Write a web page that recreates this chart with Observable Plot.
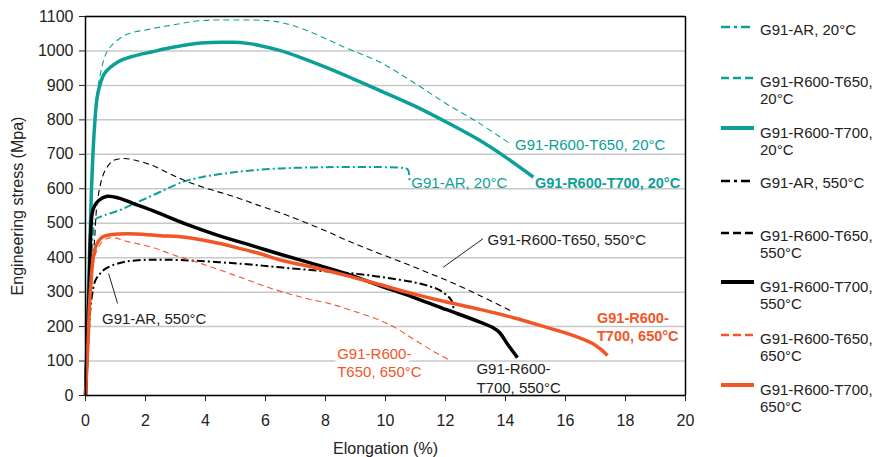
<!DOCTYPE html>
<html><head><meta charset="utf-8">
<script src="https://cdn.jsdelivr.net/npm/d3@7"></script>
<script src="https://cdn.jsdelivr.net/npm/@observablehq/plot@0.6"></script>
<style>
body{margin:0;background:#fff;font-family:"Liberation Sans",Arial,sans-serif;}
#wrap{position:relative;width:877px;height:457px;overflow:hidden;}
#chart{position:absolute;left:0;top:0;}
.lg-line{position:absolute;left:721px;}
.lg-text{position:absolute;left:760px;font-size:15px;line-height:17px;color:#222;white-space:nowrap;}
</style>
</head><body>
<div id="wrap"><div id="chart"></div><div id="legend"></div></div>
<script>
// Elongation (%), stress (MPa) pairs
const ar20 = [[0,0],[0.1,180],[0.2,400],[0.27,490],[0.33,511],[0.6,522],[1.11,537],[1.6,556],[2.22,580],[3.22,619],[3.83,633],[4.6,644],[5.5,653],[6.5,659],[7.6,662],[8.5,663],[9.8,663],[10.6,660],[10.75,655],[10.8,617]];
const t650_20 = [[0,0],[0.12,300],[0.25,700],[0.35,850],[0.52,943],[0.74,1001],[1.3,1045],[2.19,1064],[3,1077],[3.85,1088],[4.9,1090],[6.1,1088],[6.5,1083],[6.9,1074],[7.5,1055],[8.1,1032],[8.7,1008],[9.82,967],[10.93,909],[12.04,846],[13.15,789],[14.15,731]];
const t700_20 = [[0,0],[0.1,300],[0.2,600],[0.3,779],[0.41,876],[0.63,934],[1.08,968],[1.6,985],[2.19,997],[3,1012],[3.85,1023],[4.9,1025],[5.4,1022],[5.8,1016],[6.5,1001],[7.2,980],[8,953],[8.9,920],[9.82,885],[10.93,842],[12.04,793],[13.15,740],[14.0,692],[14.93,634]];
const ar550 = [[0,0],[0.1,170],[0.2,280],[0.33,334],[0.5,355],[0.67,368],[1.11,384],[1.67,392],[2.77,394],[4.44,387],[5.5,380],[6.49,372],[7.8,362],[9.05,353],[10,342],[10.93,329],[11.5,316],[11.82,305],[12.2,276],[12.27,247]];
const t650_550 = [[0,0],[0.15,250],[0.3,450],[0.4,566],[0.6,643],[0.8,672],[0.93,682],[1.27,688],[1.6,684],[2.16,670],[2.8,644],[3.44,619],[4.2,597],[5,576],[5.7,554],[6.44,532],[7.16,508],[8,478],[8.72,450],[9.5,422],[10.4,392],[11.2,364],[12.05,334],[13.1,292],[14.15,247]];
const t700_550 = [[0,0],[0.12,300],[0.22,528],[0.3,550],[0.44,566],[0.72,578],[1.11,573],[1.6,557],[2.22,537],[3.33,498],[4.44,464],[5.55,435],[6.49,410],[7.6,382],[8.71,353],[9.8,319],[10.93,285],[12.04,249],[13.15,213],[13.6,196],[13.8,183],[14.1,145],[14.4,110]];
const t650_650 = [[0,0],[0.1,200],[0.25,380],[0.4,425],[0.6,450],[0.89,458],[1.4,447],[2.22,430],[3,406],[3.89,382],[5,348],[6.22,310],[7.3,283],[8.16,266],[9,243],[9.82,218],[10.4,193],[10.93,164],[11.5,133],[12.15,102]];
const t700_650 = [[0,0],[0.08,150],[0.17,313],[0.33,430],[0.55,459],[0.89,467],[1.67,469],[2.5,464],[3.33,459],[4.2,446],[5,430],[5.8,412],[6.55,392],[7.7,370],[8.71,348],[9.8,322],[10.93,295],[12,272],[13.15,250],[14.3,225],[15.4,197],[16.2,176],[16.9,151],[17.15,136],[17.4,116]];

const xTicks = [0,2,4,6,8,10,12,14,16,18,20];
const yTicks = [0,100,200,300,400,500,600,700,800,900,1000,1100];
const legendNames = ["G91-AR, 20°C","G91-R600-T650,\n20°C","G91-R600-T700,\n20°C","G91-AR, 550°C","G91-R600-T650,\n550°C","G91-R600-T700,\n550°C","G91-R600-T650,\n650°C","G91-R600-T700,\n650°C"];

const TEAL = "#0c9f97", BLACK = "#000000", ORANGE = "#f25526";
const series = [
  {data: ar20, color: TEAL, w: 2, dash: "8,3,2,3", lw: 2.5, ldash: "9,4,3,4", ly: 27, ty: 29},
  {data: t650_20, color: TEAL, w: 1.1, dash: "6,4", lw: 2.5, ldash: "8,4", ly: 78, ty: 81},
  {data: t700_20, color: TEAL, w: 3.5, dash: null, lw: 4, ldash: null, ly: 128, ty: 132},
  {data: ar550, color: BLACK, w: 2, dash: "8,3,2,3", lw: 2.5, ldash: "9,4,3,4", ly: 181, ty: 182},
  {data: t650_550, color: BLACK, w: 1.1, dash: "6,4", lw: 2.5, ldash: "8,4", ly: 233, ty: 235},
  {data: t700_550, color: BLACK, w: 3.5, dash: null, lw: 4, ldash: null, ly: 282, ty: 286},
  {data: t650_650, color: ORANGE, w: 1.1, dash: "6,4", lw: 2.5, ldash: "8,4", ly: 335, ty: 338},
  {data: t700_650, color: ORANGE, w: 3.5, dash: null, lw: 4, ldash: null, ly: 385, ty: 389}
];

const labels = [
  {text: "G91-R600-T650, 20°C", x: 14.32, y: 731, color: TEAL, bold: false},
  {text: "G91-AR, 20°C", x: 10.86, y: 620, color: TEAL, bold: false},
  {text: "G91-R600-T700, 20°C", x: 14.98, y: 620, color: TEAL, bold: true},
  {text: "G91-AR, 550°C", x: 0.55, y: 224, color: "#222", bold: false},
  {text: "G91-R600-T650, 550°C", x: 13.4, y: 454, color: "#222", bold: false},
  {text: "G91-R600-\nT700, 550°C", x: 13.03, y: 52, color: "#222", bold: false},
  {text: "G91-R600-\nT700, 650°C", x: 17.05, y: 200, color: ORANGE, bold: true}
];
const boxedLabel = [{text: "G91-R600-\nT650, 650°C", x: 8.39, y: 97}];
const leaders = [
  {x1: 0.77, y1: 354, x2: 1.07, y2: 267},
  {x1: 13.25, y1: 455, x2: 11.92, y2: 372}
];

const font = "Liberation Sans, Arial, sans-serif";
const marks = [
  Plot.gridY(yTicks, {stroke: "#c8c8c8", strokeOpacity: 1, strokeWidth: 1.5}),
  Plot.text(boxedLabel, {x: "x", y: "y", text: "text", textAnchor: "start", lineAnchor: "middle", lineHeight: 1.25, fontSize: 15, fontFamily: font, fill: ORANGE, stroke: "white", strokeWidth: 10})
];
for (const s of series) {
  marks.push(Plot.line(s.data, {stroke: s.color, strokeWidth: s.w, strokeDasharray: s.dash || undefined, strokeLinejoin: "round", strokeLinecap: "butt", curve: "catmull-rom"}));
}
marks.push(
  Plot.link(leaders, {x1: "x1", y1: "y1", x2: "x2", y2: "y2", stroke: "#222", strokeWidth: 1}),
  Plot.text(labels.filter(d => !d.bold), {x: "x", y: "y", text: "text", textAnchor: "start", lineAnchor: "middle", lineHeight: 1.25, fontSize: 15, fontFamily: font, fill: d => d.color}),
  Plot.text(labels.filter(d => d.bold), {x: "x", y: "y", text: "text", textAnchor: "start", lineAnchor: "middle", lineHeight: 1.25, fontSize: 14.5, fontWeight: "bold", fontFamily: font, fill: d => d.color}),
  Plot.ruleY([1100], {stroke: "#000", strokeWidth: 1.5}),
  Plot.ruleX([20], {stroke: "#000", strokeWidth: 1.5}),
  Plot.ruleY([0], {stroke: "#000", strokeWidth: 1.5}),
  Plot.ruleX([0], {stroke: "#000", strokeWidth: 1.5}),
  Plot.axisX(xTicks, {tickSize: 6, tickPadding: 13, fontSize: 16, tickFormat: d => String(d), label: "Elongation (%)", labelAnchor: "center", labelOffset: 58, labelArrow: "none"}),
  Plot.axisY(yTicks, {tickSize: 6, tickPadding: 6, fontSize: 16, tickFormat: d => String(d), label: "Engineering stress (Mpa)", labelAnchor: "center", labelOffset: 74, labelArrow: "none"})
);

const chart = Plot.plot({
  width: 700, height: 457,
  marginLeft: 85, marginRight: 15, marginTop: 16, marginBottom: 62,
  style: {fontFamily: font, fontSize: "16px", color: "#222", background: "white", overflow: "visible"},
  x: {domain: [0, 20]},
  y: {domain: [0, 1100]},
  marks
});
document.getElementById("chart").appendChild(chart);

// Legend on the right
const legend = document.getElementById("legend");
series.forEach((s, i) => {
  const ns = "http://www.w3.org/2000/svg";
  const svg = document.createElementNS(ns, "svg");
  svg.setAttribute("width", 33); svg.setAttribute("height", 8);
  svg.setAttribute("class", "lg-line");
  svg.style.top = (s.ly - 4) + "px";
  const ln = document.createElementNS(ns, "line");
  ln.setAttribute("x1", 0); ln.setAttribute("x2", 33); ln.setAttribute("y1", 4); ln.setAttribute("y2", 4);
  ln.setAttribute("stroke", s.color); ln.setAttribute("stroke-width", s.lw);
  if (s.ldash) ln.setAttribute("stroke-dasharray", s.ldash);
  svg.appendChild(ln);
  legend.appendChild(svg);
  const t = document.createElement("div");
  t.className = "lg-text";
  t.style.top = (s.ty - 8.5) + "px";
  t.innerHTML = legendNames[i].split("\n").join("<br>");
  legend.appendChild(t);
});
</script>
</body></html>
